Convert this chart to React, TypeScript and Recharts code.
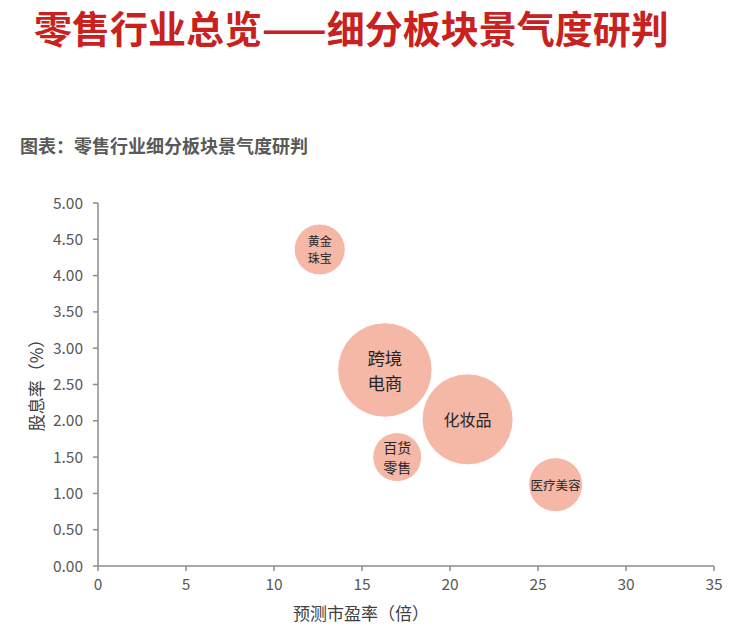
import React from 'react';
import { ScatterChart, Scatter, XAxis, YAxis, ZAxis, Label } from 'recharts';

// segment names, forward P/E (x), dividend yield % (y), bubble size (z)
const segments = ['黄金珠宝', '跨境电商', '化妆品', '百货零售', '医疗美容'];
const peValues = [12.6, 16.3, 21.0, 17.0, 26.0];
const yieldValues = [4.36, 2.7, 2.02, 1.5, 1.12];
const sizeValues = [6.5, 22.3, 20.7, 6.0, 7.3];

const xTicks = [0, 5, 10, 15, 20, 25, 30, 35];
const yTicks = [0, 0.5, 1, 1.5, 2, 2.5, 3, 3.5, 4, 4.5, 5];

const data = segments.map((name, i) => ({
  name,
  x: peValues[i],
  y: yieldValues[i],
  z: sizeValues[i],
}));

// how each bubble label is broken and sized
const labelStyle: Record<string, { lines: string[]; size: number }> = {
  黄金珠宝: { lines: ['黄金', '珠宝'], size: 12 },
  跨境电商: { lines: ['跨境', '电商'], size: 17.5 },
  化妆品: { lines: ['化妆品'], size: 16 },
  百货零售: { lines: ['百货', '零售'], size: 14 },
  医疗美容: { lines: ['医疗美容'], size: 12.5 },
};

const FONT = '"Microsoft YaHei", "Noto Sans CJK SC", sans-serif';
const AXIS = '#8c8c8c';
const TEXT = '#595959';

const Bubble = (props: any) => {
  const { cx, cy, width, payload } = props;
  const r = width / 2;
  const st = labelStyle[payload.name];
  const lh = st.size * 1.42;
  const top = cy - ((st.lines.length - 1) * lh) / 2;
  return (
    <g>
      <circle cx={cx} cy={cy} r={r} fill="#F5B7A6" stroke="#ffffff" strokeWidth={1} />
      {st.lines.map((t, i) => (
        <text
          key={t}
          x={cx}
          y={top + i * lh}
          textAnchor="middle"
          dominantBaseline="central"
          fontSize={st.size}
          fill="#262626"
          fontFamily={FONT}
        >
          {t}
        </text>
      ))}
    </g>
  );
};

export default function App() {
  return (
    <div style={{ position: 'absolute', left: 0, top: 0, width: 732, height: 629, background: '#fff', fontFamily: FONT }}>
      <div
        style={{
          position: 'absolute',
          left: 34,
          top: 8,
          fontSize: 38,
          lineHeight: '38px',
          fontWeight: 'bold',
          color: '#C9211E',
          whiteSpace: 'nowrap',
        }}
      >
        零售行业总览——细分板块景气度研判
      </div>
      <div
        style={{
          position: 'absolute',
          left: 20,
          top: 136,
          fontSize: 18,
          lineHeight: '18px',
          fontWeight: 'bold',
          color: TEXT,
          whiteSpace: 'nowrap',
        }}
      >
        图表：零售行业细分板块景气度研判
      </div>
      <div style={{ position: 'absolute', left: 0, top: 0 }}>
        <ScatterChart width={732} height={629} margin={{ top: 203, right: 18, bottom: 0, left: 0 }}>
          <XAxis
            type="number"
            dataKey="x"
            domain={[0, 35]}
            ticks={xTicks}
            interval={0}
            stroke={AXIS}
            strokeWidth={1.5}
            tickSize={5}
            tickMargin={8}
            tick={{ fill: TEXT, fontSize: 15.5, fontFamily: FONT }}
            height={63}
          >
            <Label
              content={() => (
                <text x={361} y={612} textAnchor="middle" dominantBaseline="central" fontSize={17} fill="#404040" fontFamily={FONT}>
                  预测市盈率（倍）
                </text>
              )}
            />
          </XAxis>
          <YAxis
            type="number"
            dataKey="y"
            domain={[0, 5]}
            ticks={yTicks}
            interval={0}
            tickFormatter={(v: number) => v.toFixed(2)}
            width={98}
            stroke={AXIS}
            strokeWidth={1.5}
            tickSize={5}
            tickMargin={10}
            tick={{ fill: TEXT, fontSize: 15.5, fontFamily: FONT }}
          >
            <Label
              content={() => (
                <text
                  x={35}
                  y={381}
                  transform="rotate(-90 35 381)"
                  textAnchor="middle"
                  dominantBaseline="central"
                  fontSize={17}
                  fill="#404040"
                  fontFamily={FONT}
                >
                  股息率（%）
                </text>
              )}
            />
          </YAxis>
          <ZAxis type="number" dataKey="z" domain={[0, 25]} range={[0, 7854]} />
          <Scatter data={data} shape={Bubble} isAnimationActive={false} />
        </ScatterChart>
      </div>
    </div>
  );
}
